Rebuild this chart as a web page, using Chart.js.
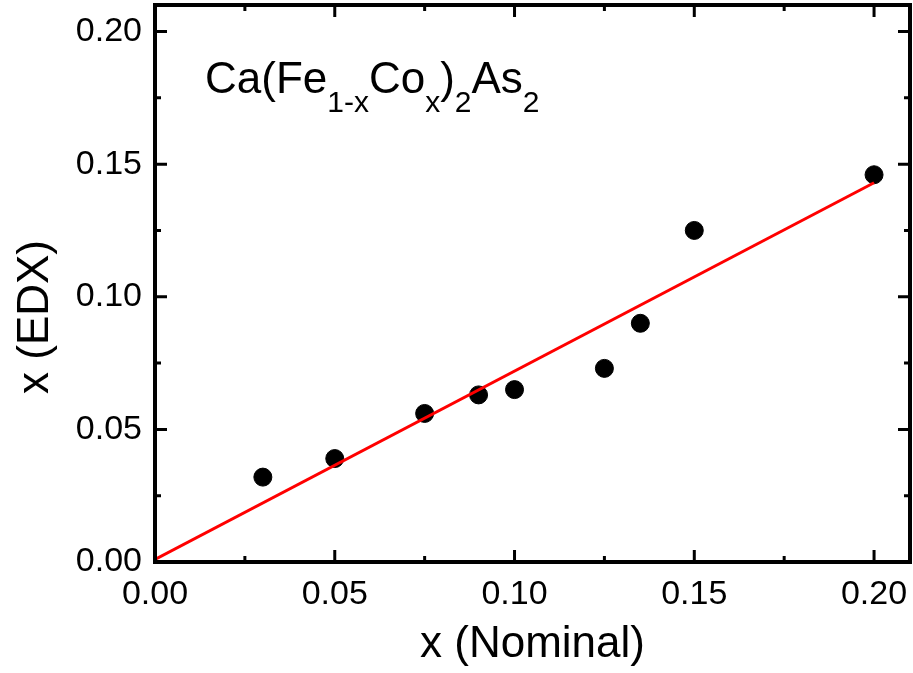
<!DOCTYPE html>
<html>
<head>
<meta charset="utf-8">
<script src="https://cdn.jsdelivr.net/npm/chart.js@4"></script>
<style>
  html, body { margin: 0; padding: 0; background: #fff; }
  canvas { display: block; }
</style>
</head>
<body>
<canvas id="chart" width="913" height="673"></canvas>
<script>
// measured points: nominal vs EDX cobalt content
const xNominal = [0.03, 0.05, 0.075, 0.09, 0.10, 0.125, 0.135, 0.15, 0.20];
const xEdx = [0.032, 0.039, 0.056, 0.063, 0.065, 0.073, 0.090, 0.125, 0.146];
// linear fit
const fitX = [0, 0.20];
const fitY = [0.001, 0.143];
const majorTicks = [0, 0.05, 0.10, 0.15, 0.20];
const minorTicks = [0.025, 0.075, 0.125, 0.175];
const tickLabels = ["0.00", "0.05", "0.10", "0.15", "0.20"];

const FONT = "'Liberation Sans', Arial, sans-serif";

const framePlugin = {
  id: "frame",
  afterDraw(chart) {
    const { ctx, chartArea: a, scales } = chart;
    ctx.save();
    ctx.strokeStyle = "#000";
    ctx.lineCap = "butt";

    // inward ticks on all four sides
    ctx.lineWidth = 3;
    const tick = (vals, len) => {
      vals.forEach(v => {
        const px = scales.x.getPixelForValue(v);
        const py = scales.y.getPixelForValue(v);
        ctx.beginPath();
        ctx.moveTo(px, a.bottom); ctx.lineTo(px, a.bottom - len);
        ctx.moveTo(px, a.top); ctx.lineTo(px, a.top + len);
        ctx.moveTo(a.left, py); ctx.lineTo(a.left + len, py);
        ctx.moveTo(a.right, py); ctx.lineTo(a.right - len, py);
        ctx.stroke();
      });
    };
    tick(majorTicks, 12);
    tick(minorTicks, 6);

    ctx.lineWidth = 4;
    ctx.strokeRect(a.left, a.top, a.right - a.left, a.bottom - a.top);

    // axis titles
    ctx.fillStyle = "#000";
    ctx.font = "44px " + FONT;
    ctx.textAlign = "center";
    ctx.textBaseline = "alphabetic";
    ctx.fillText("x (Nominal)", (a.left + a.right) / 2, 657);
    ctx.save();
    ctx.translate(48, 317);
    ctx.rotate(-Math.PI / 2);
    ctx.fillText("x (EDX)", 0, 0);
    ctx.restore();

    // formula label with subscripts
    const parts = [["Ca(Fe", 0], ["1-x", 1], ["Co", 0], ["x", 1], [")", 0], ["2", 1], ["As", 0], ["2", 1]];
    let x = 205;
    ctx.textAlign = "left";
    parts.forEach(([t, sub]) => {
      ctx.font = (sub ? "30px " : "44px ") + FONT;
      ctx.fillText(t, x, sub ? 112 : 93);
      x += ctx.measureText(t).width;
    });
    ctx.restore();
  }
};

new Chart(document.getElementById("chart"), {
  type: "scatter",
  data: {
    datasets: [
      {
        type: "line",
        data: fitX.map((v, i) => ({ x: v, y: fitY[i] })),
        borderColor: "#ff0000",
        borderWidth: 3,
        pointRadius: 0,
        fill: false,
        order: 0
      },
      {
        data: xNominal.map((v, i) => ({ x: v, y: xEdx[i] })),
        backgroundColor: "#000",
        borderColor: "#000",
        pointRadius: 9,
        order: 1
      }
    ]
  },
  options: {
    responsive: false,
    animation: false,
    devicePixelRatio: 1,
    layout: { autoPadding: false, padding: { top: 5, right: 3, left: 0, bottom: 0 } },
    plugins: { legend: { display: false }, tooltip: { enabled: false } },
    scales: {
      x: {
        type: "linear",
        min: 0,
        max: 0.21,
        grid: { display: false, drawTicks: false },
        border: { display: false },
        afterBuildTicks: s => { s.ticks = majorTicks.map(v => ({ value: v })); },
        afterFit: s => { s.height = 111; s.paddingLeft = 0; s.paddingRight = 0; },
        ticks: {
          padding: 12,
          color: "#000",
          font: { family: FONT, size: 34 },
          maxRotation: 0,
          callback: (v) => tickLabels[majorTicks.findIndex(t => Math.abs(t - v) < 1e-9)]
        }
      },
      y: {
        type: "linear",
        min: 0,
        max: 0.21,
        grid: { display: false, drawTicks: false },
        border: { display: false },
        afterBuildTicks: s => { s.ticks = majorTicks.map(v => ({ value: v })); },
        afterFit: s => { s.width = 155; s.paddingTop = 0; s.paddingBottom = 0; },
        ticks: {
          padding: 13,
          color: "#000",
          font: { family: FONT, size: 34 },
          callback: (v) => tickLabels[majorTicks.findIndex(t => Math.abs(t - v) < 1e-9)]
        }
      }
    }
  },
  plugins: [framePlugin]
});
</script>
</body>
</html>
